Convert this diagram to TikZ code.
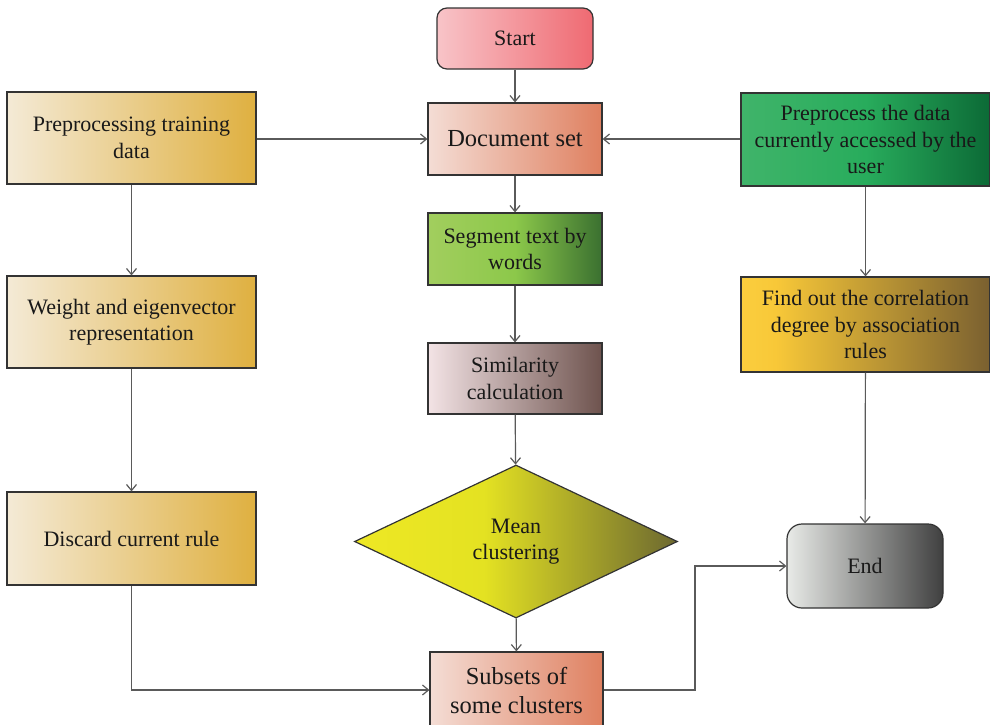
\documentclass[tikz,border=0pt]{standalone}
\usepackage{fontspec}
\setmainfont{Liberation Serif}
\newfontfamily\tnr{Liberation Serif}
\usetikzlibrary{arrows.meta,shapes.geometric,calc}
\definecolor{edgec}{HTML}{333333}
\definecolor{linec}{HTML}{5A5A5A}
\definecolor{startL}{HTML}{F8C4C8}\definecolor{startR}{HTML}{EF6A72}
\definecolor{docL}{HTML}{F4DDD5}\definecolor{docR}{HTML}{DF8060}
\definecolor{segL}{HTML}{A2CE5E}\definecolor{segM}{HTML}{8CC84A}\definecolor{segR}{HTML}{3A7030}
\definecolor{simL}{HTML}{F3E3E5}\definecolor{simR}{HTML}{6E534E}
\definecolor{diaL}{HTML}{EEE824}\definecolor{diaM}{HTML}{E4E222}\definecolor{diaR}{HTML}{6C6830}
\definecolor{goldL}{HTML}{F4EAD6}\definecolor{goldR}{HTML}{DFB040}
\definecolor{preL}{HTML}{40B46A}\definecolor{preM}{HTML}{28AC5C}\definecolor{preR}{HTML}{0C6A36}
\definecolor{findL}{HTML}{FBCE3E}\definecolor{findM}{HTML}{F8C838}\definecolor{findR}{HTML}{7A6030}
\definecolor{endL}{HTML}{E8EAE7}\definecolor{endR}{HTML}{404040}
\pgfdeclarehorizontalshading{diashade}{100bp}{color(0bp)=(diaL); color(25bp)=(diaL); color(45bp)=(diaM); color(75bp)=(diaR); color(100bp)=(diaR)}
\pgfdeclarehorizontalshading{findshade}{100bp}{color(0bp)=(findL); color(25bp)=(findL); color(32bp)=(findM); color(75bp)=(findR); color(100bp)=(findR)}
\pgfdeclarehorizontalshading{preshade}{100bp}{color(0bp)=(preL); color(25bp)=(preL); color(50bp)=(preM); color(75bp)=(preR); color(100bp)=(preR)}
\pgfdeclarehorizontalshading{segshade}{100bp}{color(0bp)=(segL); color(25bp)=(segL); color(50bp)=(segM); color(75bp)=(segR); color(100bp)=(segR)}
\tikzset{
  box/.style={draw=edgec, line width=1.2pt, inner sep=2pt, align=center,
    font=\tnr\fontsize{22}{26.5}\selectfont, text=black!90},
  bigtext/.style={font=\tnr\fontsize{24.5}{29}\selectfont},
  conn/.style={draw=linec, line width=1.2pt, -{Straight Barb[length=6pt,width=10pt]}},
  goldbox/.style={box, minimum width=249pt, minimum height=92pt, left color=goldL, right color=goldR},
}
\begin{document}
\begin{tikzpicture}[x=1pt,y=1pt]
\useasboundingbox (0,0) rectangle (990,-724);
% centre column
\node[box, rounded corners=10pt, minimum width=156pt, minimum height=61pt,
  left color=startL, right color=startR] (start) at (515,-38.5) {Start};
\node[box, bigtext, minimum width=174pt, minimum height=72pt,
  left color=docL, right color=docR] (doc) at (515,-139) {Document set};
\node[box, minimum width=174pt, minimum height=72pt,
  shading=segshade] (seg) at (515,-249) {Segment text by\\words};
\node[box, minimum width=174pt, minimum height=71pt,
  left color=simL, right color=simR] (sim) at (515,-378.5) {Similarity\\calculation};
\node[box, diamond, inner sep=0pt, minimum width=323pt, minimum height=153pt,
  shading=diashade] (dia) at (516,-541.5) {Mean\\clustering};
\node[box, bigtext, minimum width=173pt, minimum height=76pt,
  left color=docL, right color=docR] (sub) at (516.5,-690) {Subsets of\\some clusters};
% left column
\node[goldbox] (ptd) at (131.5,-138) {Preprocessing training\\data};
\node[goldbox] (wei) at (131.5,-322) {Weight and eigenvector\\representation};
\node[goldbox, minimum height=93pt] (dis) at (131.5,-538.5) {Discard current rule};
% right column
\node[box, minimum width=249pt, minimum height=93pt,
  shading=preshade] (pre) at (865.5,-139.5)
  {Preprocess the data\\currently accessed by the\\user};
\node[box, minimum width=249pt, minimum height=95pt,
  shading=findshade] (find) at (865.5,-324.5)
  {Find out the correlation\\degree by association\\rules};
\node[box, rounded corners=15pt, minimum width=156pt, minimum height=84pt,
  left color=endL, right color=endR] (endn) at (865,-566) {End};
\coordinate (turn) at (695,0);
% connectors
\draw[conn] (start) -- (doc);
\draw[conn] (ptd.east |- doc.west) -- (doc.west);
\draw[conn] (pre.west |- doc.east) -- (doc.east);
\draw[conn] (doc) -- (seg);
\draw[conn] (seg) -- (sim);
\draw[conn] (sim) -- (dia);
\draw[conn] (dia) -- (sub);
\draw[conn] (ptd) -- (wei);
\draw[conn] (wei) -- (dis);
\draw[conn] (dis.south) |- (sub.west);
\draw[conn] (sub.east) -- (sub.east -| turn) |- (endn.west);
\draw[conn] (pre) -- (find);
\draw[conn] (find) -- (endn);
\end{tikzpicture}
\end{document}
